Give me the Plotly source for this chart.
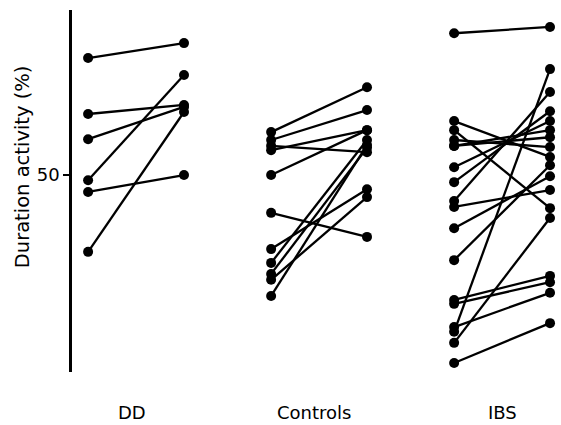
import plotly.graph_objects as go

# Data (percent duration of activity), before -> after
groups = ["DD", "Controls", "IBS"]
dd_before = [79.7, 65.5, 59.1, 48.7, 45.7, 30.5]
dd_after = [83.5, 67.8, 67.3, 75.4, 50.0, 66.0]
controls_before = [60.9, 58.9, 57.4, 56.3, 50.0, 40.4, 31.2, 27.7, 24.9, 23.4, 19.3]
controls_after = [72.3, 66.5, 55.8, 61.4, 61.4, 34.3, 46.4, 58.9, 56.9, 44.4, 57.6]
ibs_before = [86.0, 63.7, 61.4, 58.9, 57.4, 57.4, 52.0, 48.2, 43.4, 41.9, 36.5, 28.4,
              18.3, 17.3, 11.4, 10.2, 7.4, 2.3]
ibs_after = [87.6, 54.6, 41.6, 57.1, 59.6, 61.4, 63.7, 66.2, 71.1, 46.2, 49.7, 52.5,
             24.4, 22.8, 20.1, 76.9, 39.1, 12.4]

series = [(dd_before, dd_after), (controls_before, controls_after), (ibs_before, ibs_after)]

fig = go.Figure()
half = 0.262
for gi, (b, a) in enumerate(series):
    for vb, va in zip(b, a):
        fig.add_trace(go.Scatter(
            x=[gi - half, gi + half], y=[vb, va],
            mode="lines+markers",
            line=dict(color="black", width=2.3),
            marker=dict(color="black", size=10),
            showlegend=False, hoverinfo="skip"))

fig.update_layout(
    width=561, height=425,
    margin=dict(l=72, r=0, t=10, b=53),
    paper_bgcolor="white", plot_bgcolor="white",
    font=dict(family="DejaVu Sans", color="black", size=18),
    xaxis=dict(range=[-0.35, 2.322], showgrid=False, zeroline=False,
               showline=False, showticklabels=False, ticks=""),
    yaxis=dict(range=[0, 91.9], showgrid=False, zeroline=False,
               showline=True, linecolor="black", linewidth=2.5,
               tickvals=[50], ticktext=["50"], ticks="outside",
               ticklen=6, tickwidth=1.5, tickcolor="black",
               tickfont=dict(size=18, family="DejaVu Sans")),
)

label_x = [-0.022, -0.027, 0.005]
for gi, g in enumerate(groups):
    fig.add_annotation(x=gi + label_x[gi], y=-0.112, xref="x", yref="paper",
                       text=g, showarrow=False, xanchor="center", yanchor="middle",
                       font=dict(size=18, family="DejaVu Sans"))

fig.add_annotation(x=-0.102, y=0.566, xref="paper", yref="paper",
                   text="Duration activity (%)", textangle=-90, showarrow=False,
                   xanchor="center", yanchor="middle",
                   font=dict(size=19.5, family="DejaVu Sans"))

fig.write_html("out.html")
